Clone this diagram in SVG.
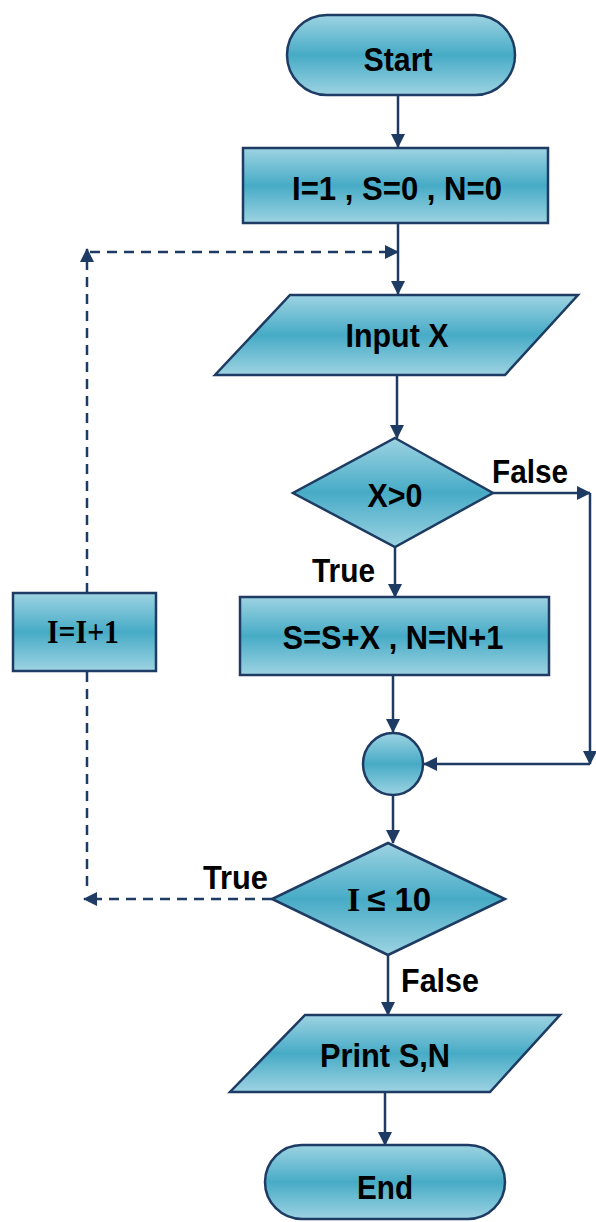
<svg xmlns="http://www.w3.org/2000/svg" width="596" height="1222" viewBox="0 0 596 1222">
<defs>
<linearGradient id="fillg" x1="0" y1="0" x2="0" y2="1">
<stop offset="0" stop-color="#9dd3e2"/>
<stop offset="0.5" stop-color="#47abc6"/>
<stop offset="1" stop-color="#9dd3e2"/>
</linearGradient>
<marker id="ah" markerUnits="userSpaceOnUse" markerWidth="14" markerHeight="14" refX="13" refY="7" orient="auto">
<path d="M0,0 L14,7 L0,14 z" fill="#1d3b63"/>
</marker>
<style>
.shape{fill:url(#fillg);stroke:#1d3b63;stroke-width:2.5}
.conn{fill:none;stroke:#1d3b63;stroke-width:2.5}
.dash{fill:none;stroke:#1d3b63;stroke-width:2.5;stroke-dasharray:10 7}
.t{font-family:"Liberation Sans",Arial,sans-serif;font-weight:bold;font-size:33px;fill:#000;text-anchor:middle}
.l{font-family:"Liberation Sans",Arial,sans-serif;font-weight:bold;font-size:33px;fill:#000}
.s{font-family:"Liberation Serif","Times New Roman",serif;font-weight:bold;font-size:34px;fill:#000}
</style>
</defs>
<g id="connectors">
<path class="conn" d="M398,95 V147" marker-end="url(#ah)"/>
<path class="conn" d="M398,223 V294" marker-end="url(#ah)"/>
<path class="conn" d="M397,375 V438" marker-end="url(#ah)"/>
<path class="conn" d="M395,547 V597" marker-end="url(#ah)"/>
<path class="conn" d="M493,493 H590" marker-end="url(#ah)"/>
<path class="conn" d="M590,493 V764" marker-end="url(#ah)"/>
<path class="conn" d="M590,764 H424" marker-end="url(#ah)"/>
<path class="conn" d="M393,675 V732" marker-end="url(#ah)"/>
<path class="conn" d="M393,795 V843" marker-end="url(#ah)"/>
<path class="conn" d="M388,955 V1015" marker-end="url(#ah)"/>
<path class="conn" d="M385,1092 V1145" marker-end="url(#ah)"/>
<path class="dash" d="M272,899 H84" marker-end="url(#ah)"/>
<path class="dash" d="M87,886 V672"/>
<path class="dash" d="M87,593 V249" marker-end="url(#ah)"/>
<path class="dash" d="M90,252 H398" marker-end="url(#ah)"/>
<text class="l" x="492" y="483" textLength="76" lengthAdjust="spacingAndGlyphs">False</text>
<text class="l" x="312" y="582" textLength="63" lengthAdjust="spacingAndGlyphs">True</text>
<text class="l" x="203" y="889" textLength="65" lengthAdjust="spacingAndGlyphs">True</text>
<text class="l" x="401" y="992" textLength="78" lengthAdjust="spacingAndGlyphs">False</text>
</g>
<g id="start">
<rect class="shape" x="287" y="15" width="228" height="80" rx="40" ry="40"/>
<text class="t" x="398" y="71" textLength="69" lengthAdjust="spacingAndGlyphs">Start</text>
</g>
<g id="init">
<rect class="shape" x="243" y="148" width="305" height="75"/>
<text class="t" x="397" y="200" textLength="210" lengthAdjust="spacingAndGlyphs">I=1 , S=0 , N=0</text>
</g>
<g id="inputx">
<polygon class="shape" points="290,295 578,295 505,375 215,375"/>
<text class="t" x="397" y="347" textLength="103" lengthAdjust="spacingAndGlyphs">Input X</text>
</g>
<g id="cond1">
<polygon class="shape" points="395,438 493,493 395,547 293,493"/>
<text class="t" x="395" y="507" textLength="55" lengthAdjust="spacingAndGlyphs">X&gt;0</text>
</g>
<g id="update">
<rect class="shape" x="240" y="597" width="309" height="78"/>
<text class="t" x="393" y="649" textLength="221" lengthAdjust="spacingAndGlyphs">S=S+X , N=N+1</text>
</g>
<g id="incr">
<rect class="shape" x="13" y="593" width="143" height="78"/>
<text class="s" x="83" y="643" text-anchor="middle" textLength="72" lengthAdjust="spacingAndGlyphs">I=I+1</text>
</g>
<g id="merge">
<ellipse class="shape" cx="393" cy="764" rx="30" ry="31"/>
</g>
<g id="cond2">
<polygon class="shape" points="388,843 505,899 388,955 272,899"/>
<text x="347" y="911"><tspan class="s">I</tspan><tspan class="l" dx="7">≤ 10</tspan></text>
</g>
<g id="print">
<polygon class="shape" points="305,1015 560,1015 490,1092 230,1092"/>
<text class="t" x="385" y="1067" textLength="130" lengthAdjust="spacingAndGlyphs">Print S,N</text>
</g>
<g id="end">
<rect class="shape" x="265" y="1145" width="240" height="74" rx="37" ry="37"/>
<text class="t" x="385" y="1199" textLength="56" lengthAdjust="spacingAndGlyphs">End</text>
</g>
</svg>
